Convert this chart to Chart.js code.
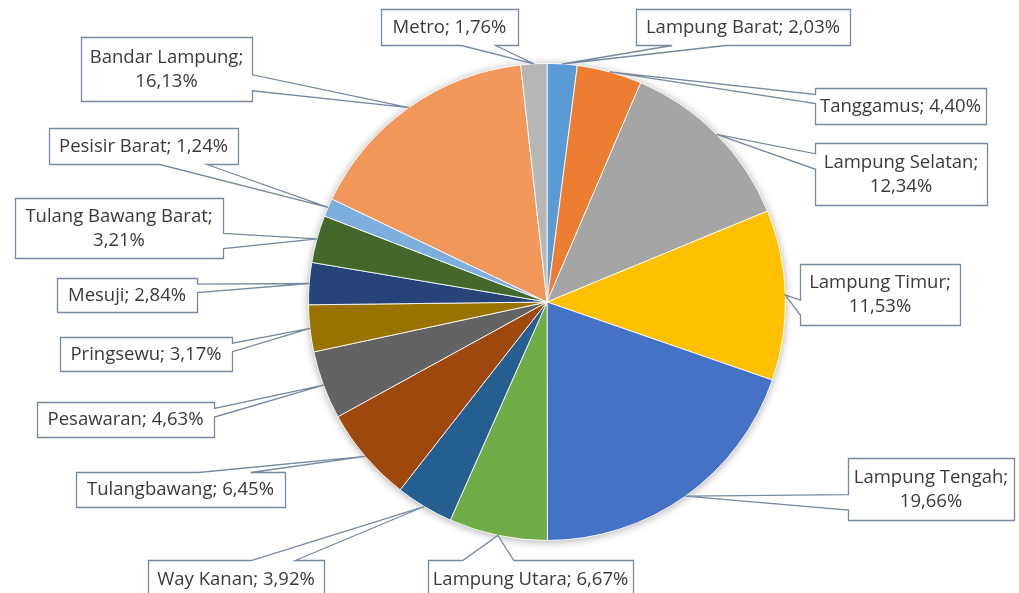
<!DOCTYPE html>
<html>
<head>
<meta charset="utf-8">
<script src="https://cdn.jsdelivr.net/npm/chart.js@4"></script>
<style>
  html, body { margin: 0; padding: 0; background: #ffffff; }
  #wrap { width: 1019px; height: 593px; position: relative; overflow: hidden; }
  canvas { display: block; }
</style>
</head>
<body>
<div id="wrap"><canvas id="c" width="1019" height="593"></canvas></div>
<script>
// ---- data ----
const categories = [
  'Lampung Barat', 'Tanggamus', 'Lampung Selatan', 'Lampung Timur', 'Lampung Tengah',
  'Lampung Utara', 'Way Kanan', 'Tulangbawang', 'Pesawaran', 'Pringsewu',
  'Mesuji', 'Tulang Bawang Barat', 'Pesisir Barat', 'Bandar Lampung', 'Metro'
];
const shares = [2.03, 4.40, 12.34, 11.53, 19.66, 6.67, 3.92, 6.45, 4.63, 3.17, 2.84, 3.21, 1.24, 16.13, 1.76];

// ---- styles ----
const sliceColors = [
  '#5B9BD5', '#ED7D31', '#A5A5A5', '#FFC000', '#4472C4',
  '#70AD47', '#255E91', '#9E480E', '#636363', '#997300',
  '#264478', '#43682B', '#7CAFDD', '#F1975A', '#B7B7B7'
];
// callout boxes: [left, top, width, height]
const labelBoxes = [
  [636, 9, 214, 36],
  [815, 88, 171, 36],
  [815, 143, 172, 62],
  [800, 264, 160, 61],
  [848, 458, 166, 62],
  [428, 560, 205, 38],
  [148, 560, 176, 38],
  [76, 472, 209, 35],
  [37, 402, 177, 35],
  [60, 337, 172, 34],
  [57, 278, 140, 34],
  [15, 198, 208, 60],
  [49, 128, 189, 36],
  [81, 37, 171, 64],
  [381, 9, 137, 36]
];
const labelWrap = [false, false, true, true, true, false, false, false, false, false, false, true, false, true, false];

const fmtPct = v => v.toFixed(2).replace('.', ',') + '%';

const pieShadow = {
  id: 'pieShadow',
  beforeDatasetsDraw(chart) {
    const arc = chart.getDatasetMeta(0).data[0];
    if (!arc) return;
    const p = arc.getProps(['x', 'y', 'outerRadius']);
    const ctx = chart.ctx;
    ctx.save();
    ctx.shadowColor = 'rgba(0,0,0,0.35)';
    ctx.shadowBlur = 8;
    ctx.shadowOffsetY = 1;
    ctx.fillStyle = '#ffffff';
    ctx.beginPath();
    ctx.arc(p.x, p.y, p.outerRadius, 0, Math.PI * 2);
    ctx.fill();
    ctx.restore();
  }
};

function calloutPath(ctx, l, t, w, h, tx, ty) {
  const r = l + w, b = t + h, hc = l + w / 2, vc = t + h / 2;
  const dxPos = tx - hc, dyPos = ty - vc;
  const dq = dxPos * h / w;
  const dz = Math.abs(dyPos) - Math.abs(dq);
  const x1 = l + w * (dxPos > 0 ? 7 : 2) / 12;
  const x2 = l + w * (dxPos > 0 ? 10 : 5) / 12;
  const y1 = t + h * (dyPos > 0 ? 7 : 2) / 12;
  const y2 = t + h * (dyPos > 0 ? 10 : 5) / 12;
  ctx.beginPath();
  ctx.moveTo(l, t);
  if (dz > 0 && dyPos < 0) { ctx.lineTo(x1, t); ctx.lineTo(tx, ty); ctx.lineTo(x2, t); }
  ctx.lineTo(r, t);
  if (dz <= 0 && dxPos > 0) { ctx.lineTo(r, y1); ctx.lineTo(tx, ty); ctx.lineTo(r, y2); }
  ctx.lineTo(r, b);
  if (dz > 0 && dyPos > 0) { ctx.lineTo(x2, b); ctx.lineTo(tx, ty); ctx.lineTo(x1, b); }
  ctx.lineTo(l, b);
  if (dz <= 0 && dxPos < 0) { ctx.lineTo(l, y2); ctx.lineTo(tx, ty); ctx.lineTo(l, y1); }
  ctx.closePath();
}

const callouts = {
  id: 'callouts',
  afterDraw(chart) {
    const ctx = chart.ctx;
    const meta = chart.getDatasetMeta(0);
    meta.data.forEach((arc, i) => {
      const p = arc.getProps(['x', 'y', 'startAngle', 'endAngle', 'outerRadius']);
      const mid = (p.startAngle + p.endAngle) / 2;
      const tx = p.x + Math.cos(mid) * p.outerRadius;
      const ty = p.y + Math.sin(mid) * p.outerRadius;
      const [l, t, w, h] = labelBoxes[i];
      ctx.save();
      calloutPath(ctx, l + 0.5, t + 0.5, w, h, tx, ty);
      ctx.fillStyle = '#ffffff';
      ctx.fill();
      ctx.lineWidth = 1.3;
      ctx.strokeStyle = '#7689a0';
      ctx.stroke();
      ctx.fillStyle = '#3a3a3a';
      ctx.font = '18.5px "Open Sans"';
      ctx.textAlign = 'center';
      ctx.textBaseline = 'middle';
      const cx = l + w / 2, cy = t + h / 2 + 0.5;
      const name = chart.data.labels[i];
      const val = fmtPct(chart.data.datasets[0].data[i]);
      if (labelWrap[i]) {
        ctx.fillText(name + ';', cx, cy - 12);
        ctx.fillText(val, cx, cy + 12);
      } else {
        ctx.fillText(name + '; ' + val, cx, cy);
      }
      ctx.restore();
    });
  }
};

new Chart(document.getElementById('c'), {
  type: 'pie',
  data: {
    labels: categories,
    datasets: [{
      data: shares,
      backgroundColor: sliceColors,
      borderColor: 'rgba(255,255,255,0.85)',
      borderWidth: 1
    }]
  },
  options: {
    responsive: false,
    animation: false,
    layout: { padding: { left: 300, right: 225, top: 63, bottom: 52 } },
    plugins: {
      legend: { display: false },
      tooltip: { enabled: false }
    }
  },
  plugins: [pieShadow, callouts]
});
</script>
</body>
</html>
